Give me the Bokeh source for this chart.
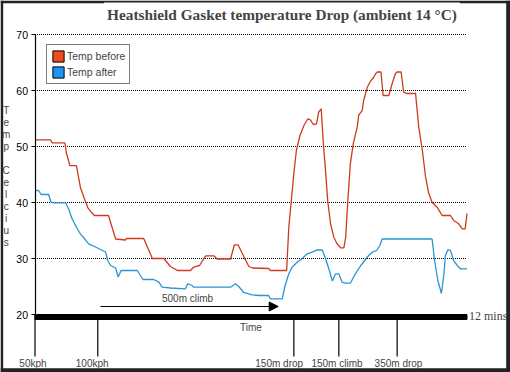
from bokeh.plotting import figure
from bokeh.models import (Range1d, LinearAxis, FixedTicker, Label, Legend, LegendItem,
                          Arrow, NormalHead)
from bokeh.embed import file_html
from bokeh.resources import INLINE

TITLE = "Heatshield Gasket temperature Drop (ambient 14 \u00b0C)"
Y_LABEL = "Temp Celcius"
SERIES = ["Temp before", "Temp after"]

# time in minutes, temperature in deg C
red_t = [0, 0.43, 0.48, 0.83, 0.875, 0.97, 1.15, 1.26, 1.36, 1.47, 1.57, 1.65, 2.04, 2.14,
         2.24, 2.51, 2.54, 3.02, 3.26, 3.58, 3.76, 3.96, 4.32, 4.41, 4.57, 4.74, 4.97, 5.06,
         5.43, 5.54, 5.64, 5.8, 5.94, 6.04, 6.49, 6.54, 6.99, 7.05, 7.12, 7.19, 7.26, 7.36,
         7.47, 7.58, 7.65, 7.73, 7.82, 7.88, 7.95, 8.01, 8.07, 8.13, 8.21, 8.3, 8.39, 8.49,
         8.58, 8.63, 8.69, 8.76, 8.84, 8.95, 8.99, 9.09, 9.13, 9.23, 9.32, 9.41, 9.46, 9.51,
         9.61, 9.67, 9.83, 9.92, 10.01, 10.06, 10.17, 10.24, 10.34, 10.52, 10.57, 10.66,
         10.76, 10.85, 10.94, 11.03, 11.17, 11.31, 11.54, 11.63, 11.77, 11.87, 11.95, 12.0]
red_v = [51.2, 51.2, 50.66, 50.66, 48.75, 46.6, 46.6, 42.73, 40.89, 39.05, 38.21, 37.68,
         37.68, 35.59, 33.48, 33.3, 33.57, 33.57, 30.0, 30.0, 28.57, 27.86, 27.86, 28.48,
         28.75, 30.48, 30.48, 29.91, 29.91, 32.45, 32.45, 30.36, 28.57, 28.3, 28.21, 27.86,
         27.86, 35.59, 40.36, 45.13, 49.29, 51.96, 53.75, 54.95, 54.77, 53.93, 54.05, 56.12,
         56.73, 50.48, 45.71, 40.36, 36.2, 33.8, 32.63, 31.91, 31.91, 33.8, 40.36, 46.91,
         50.48, 53.45, 55.54, 56.43, 58.21, 60.59, 61.66, 62.37, 62.98, 63.3, 63.3, 59.11,
         59.11, 61.2, 62.98, 63.3, 63.3, 59.7, 59.46, 59.46, 59.55, 53.45, 49.29, 44.52,
         41.55, 40.05, 39.16, 37.68, 37.68, 36.79, 36.2, 35.3, 35.3, 38.0]

blue_t = [0, 0.1, 0.17, 0.38, 0.44, 0.52, 0.85, 0.94, 1.03, 1.17, 1.26, 1.36, 1.49, 1.68,
          1.82, 1.96, 2.02, 2.1, 2.24, 2.31, 2.39, 2.84, 3.0, 3.3, 3.44, 3.53, 3.76, 4.18,
          4.24, 4.37, 4.4, 5.43, 5.57, 5.66, 5.8, 6.03, 6.22, 6.49, 6.54, 6.87, 6.94, 7.05,
          7.14, 7.28, 7.42, 7.56, 7.7, 7.84, 7.98, 8.07, 8.16, 8.26, 8.35, 8.44, 8.53, 8.62,
          8.76, 8.9, 9.04, 9.18, 9.27, 9.37, 9.49, 9.58, 9.64, 11.03, 11.1, 11.19, 11.29,
          11.36, 11.4, 11.47, 11.54, 11.63, 11.73, 11.82, 12.0]
blue_v = [42.14, 42.14, 41.43, 41.43, 40.09, 39.95, 39.95, 38.75, 37.09, 35.36, 34.41, 33.66,
          32.62, 32.05, 31.61, 31.16, 29.64, 28.75, 28.3, 26.7, 27.86, 27.86, 26.25, 26.25,
          25.77, 24.88, 24.73, 24.59, 25.48, 25.18, 24.88, 24.88, 25.48, 25.0, 23.93, 23.52,
          23.39, 23.39, 22.8, 22.8, 25.0, 27.27, 28.45, 29.34, 29.95, 30.84, 31.13, 31.55,
          31.52, 30.0, 28.21, 25.98, 27.27, 27.27, 25.77, 25.59, 25.59, 27.27, 28.66, 29.82,
          30.54, 31.13, 31.43, 32.32, 33.48, 33.48, 29.64, 26.07, 23.75, 27.27, 30.54, 31.55,
          31.43, 29.64, 28.75, 28.16, 28.16]

y_ticks = [20, 30, 40, 50, 60, 70]
grid_levels = [30, 40, 50, 60, 70]
T_END = 12
T_END_LABEL = "12 mins"
X_LABEL = "Time"

event_t = [0, 1.744, 7.19, 8.44, 10.06]
event_labels = ["50kph", "100kph", "150m drop", "150m climb", "350m drop"]
event_label_t = [-0.056, 1.589, 6.783, 8.389, 10.097]

climb_label = "500m climb"
climb_start, climb_end, climb_level = 1.819, 6.755, 21.43

RED_LINE, BLUE_LINE = "#cf3a1c", "#2a95d2"
RED_SW, BLUE_SW = "#f24a1c", "#1b95f2"
FRAME_DARK = "#222222"
SANS = "Liberation Sans"
SERIF = "Liberation Serif"

W, H = 510, 372
PX_PER_MIN = 36.0
PX_PER_DEG = 5.6
X_START = -34.5 / PX_PER_MIN
X_END = X_START + W / PX_PER_MIN
Y_END = 20 + 314 / PX_PER_DEG
Y_START = Y_END - H / PX_PER_DEG

p = figure(width=W, height=H, x_range=Range1d(X_START, X_END),
           y_range=Range1d(Y_START, Y_END), x_axis_type=None, y_axis_type=None,
           toolbar_location=None, output_backend="svg",
           min_border_left=0, min_border_right=0, min_border_top=0, min_border_bottom=0)
p.outline_line_color = None
p.background_fill_color = "white"
p.border_fill_color = "white"

# dark window border
bx = 2.7 / PX_PER_MIN
by = 2.7 / PX_PER_DEG
p.quad(left=[X_START, X_START, X_START + 505.7 / PX_PER_MIN, X_START],
       right=[X_START + bx, X_END, X_END, X_END],
       top=[Y_END, Y_END, Y_END, Y_START + 4.2 / PX_PER_DEG],
       bottom=[Y_START, Y_END - by, Y_START, Y_START],
       fill_color=FRAME_DARK, line_color=None)

yaxis = LinearAxis(fixed_location=0, ticker=FixedTicker(ticks=y_ticks),
                   bounds=(y_ticks[0], y_ticks[-1]),
                   axis_line_color="black", axis_line_width=1.2,
                   major_tick_in=0, major_tick_out=4,
                   major_tick_line_color="black", minor_tick_line_color=None,
                   major_label_standoff=3, major_label_text_font=SANS,
                   major_label_text_font_size="10.5px", major_label_text_color="black")
p.add_layout(yaxis, "left")

# dotted grid
p.segment(x0=[0] * len(grid_levels), x1=[T_END] * len(grid_levels), y0=grid_levels,
          y1=grid_levels, line_color="black", line_width=1, line_dash="1 1")

# event marker lines below the time bar
marker_bottom = 12.5
p.segment(x0=event_t, x1=event_t, y0=[marker_bottom] * len(event_t),
          y1=[y_ticks[0]] * len(event_t), line_color="black", line_width=1.2)

# thick time bar
p.quad(left=[0], right=[T_END], top=[y_ticks[0]], bottom=[y_ticks[0] - 5 / PX_PER_DEG],
       fill_color="black", line_color="black")

p.line(red_t, red_v, line_color=RED_LINE, line_width=1.3)
p.line(blue_t, blue_v, line_color=BLUE_LINE, line_width=1.3)

# legend swatch renderers (zero-size, below the visible range)
r_before = p.quad(left=[0], right=[0], top=[0], bottom=[0], fill_color=RED_SW,
                  line_color="black")
r_after = p.quad(left=[0], right=[0], top=[0], bottom=[0], fill_color=BLUE_SW,
                 line_color="black")
legend = Legend(items=[LegendItem(label=SERIES[0], renderers=[r_before]),
                       LegendItem(label=SERIES[1], renderers=[r_after])],
                location=(46, H - 84), orientation="vertical", padding=4, spacing=2,
                margin=0, glyph_width=14, glyph_height=14, label_height=14,
                label_standoff=2, label_text_font=SANS, label_text_font_size="10.5px",
                border_line_color="black", border_line_width=1,
                background_fill_color="white", background_fill_alpha=1)
p.add_layout(legend)

p.add_layout(Arrow(end=NormalHead(size=9, fill_color="black", line_color="black"),
                   x_start=climb_start, y_start=climb_level, x_end=climb_end,
                   y_end=climb_level, line_width=1.2, line_color="black"))

p.add_layout(Label(x=(climb_start + climb_end) / 2 - 0.05, y=22.86, text=climb_label,
                   text_align="center", text_baseline="middle", text_font=SANS,
                   text_font_size="10px"))
p.add_layout(Label(x=6.0, y=17.68, text=X_LABEL, text_align="center",
                   text_baseline="middle", text_font=SANS, text_font_size="10px"))
p.add_layout(Label(x=12.056, y=19.73, text=T_END_LABEL, text_align="left",
                   text_baseline="middle", text_font=SERIF, text_font_size="12px"))
for lt, lab in zip(event_label_t, event_labels):
    p.add_layout(Label(x=lt, y=11.2, text=lab, text_align="center",
                       text_baseline="alphabetic", text_font=SANS, text_font_size="10px"))

p.add_layout(Label(x=6.86, y=73.66, text=TITLE, text_align="center",
                   text_baseline="alphabetic", text_font=SERIF, text_font_style="bold",
                   text_font_size="15.3px", background_fill_color="white", padding=3))

# stacked y-axis title letters
step = 12 / PX_PER_DEG
for i, ch in enumerate(Y_LABEL):
    if ch == " ":
        continue
    p.add_layout(Label(x=-0.8, y=56.43 - i * step, text=ch, text_align="center",
                       text_baseline="middle", text_font=SANS, text_font_size="10px"))

open("out.html", "w").write(file_html(p, INLINE))
